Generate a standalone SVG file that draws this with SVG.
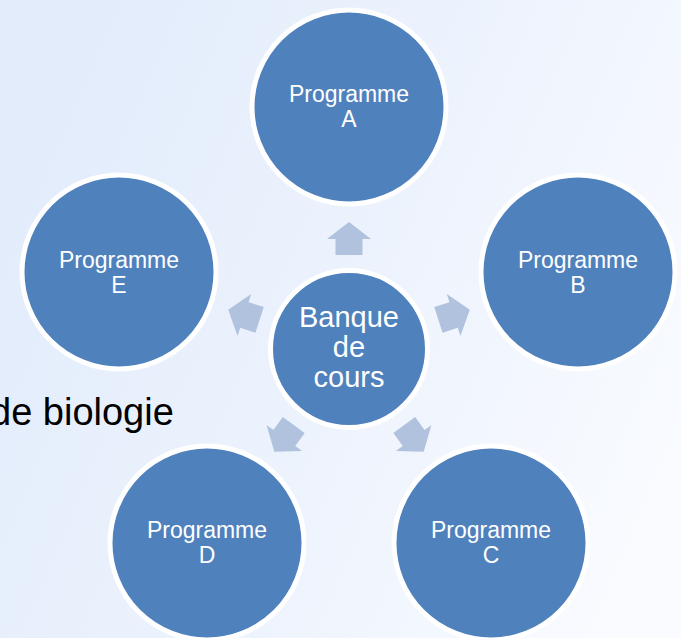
<svg xmlns="http://www.w3.org/2000/svg" width="681" height="638" viewBox="0 0 681 638">
<style>
.node{fill:#4F81BD;stroke:#FFFFFF;stroke-width:5}
.lbl{font-family:"Liberation Sans",Arial,sans-serif;font-size:23px;fill:#FFFFFF;text-anchor:middle}
.clbl{font-family:"Liberation Sans",Arial,sans-serif;font-size:29px;fill:#FFFFFF;text-anchor:middle}
.arrow{fill:#B0C2DD}
</style>
<defs>
<linearGradient id="bg" x1="0" y1="0.35" x2="1" y2="0.75">
<stop offset="0" stop-color="#E2ECFB"/>
<stop offset="0.5" stop-color="#EDF3FD"/>
<stop offset="1" stop-color="#F9FBFF"/>
</linearGradient>
<path id="arr" d="M0,-127 L22,-110 L13.5,-110 L13.5,-94 L-13.5,-94 L-13.5,-110 L-22,-110 Z"/>
</defs>
<rect x="0" y="0" width="681" height="638" fill="url(#bg)"/>
<text x="-10" y="425" font-family="'Liberation Sans',Arial,sans-serif" font-size="38" fill="#000000">de biologie</text>
<g id="connectors" class="arrow">
<use href="#arr" transform="translate(349 349)"/>
<use href="#arr" transform="translate(349 349) rotate(72)"/>
<use href="#arr" transform="translate(349 349) rotate(144)"/>
<use href="#arr" transform="translate(349 349) rotate(216)"/>
<use href="#arr" transform="translate(349 349) rotate(288)"/>
</g>
<g id="center">
<circle class="node" cx="349" cy="349" r="78.5"/>
<text class="clbl" x="349" y="327">Banque</text>
<text class="clbl" x="349" y="357">de</text>
<text class="clbl" x="349" y="387">cours</text>
</g>
<g id="progA">
<circle class="node" cx="349" cy="107" r="97"/>
<text class="lbl" x="349" y="102">Programme</text>
<text class="lbl" x="349" y="127">A</text>
</g>
<g id="progB">
<circle class="node" cx="578" cy="272" r="97"/>
<text class="lbl" x="578" y="268">Programme</text>
<text class="lbl" x="578" y="293">B</text>
</g>
<g id="progC">
<circle class="node" cx="491" cy="543" r="97"/>
<text class="lbl" x="491" y="538">Programme</text>
<text class="lbl" x="491" y="563">C</text>
</g>
<g id="progD">
<circle class="node" cx="207" cy="543" r="97"/>
<text class="lbl" x="207" y="538">Programme</text>
<text class="lbl" x="207" y="563">D</text>
</g>
<g id="progE">
<circle class="node" cx="119" cy="272" r="97"/>
<text class="lbl" x="119" y="268">Programme</text>
<text class="lbl" x="119" y="293">E</text>
</g>
</svg>
